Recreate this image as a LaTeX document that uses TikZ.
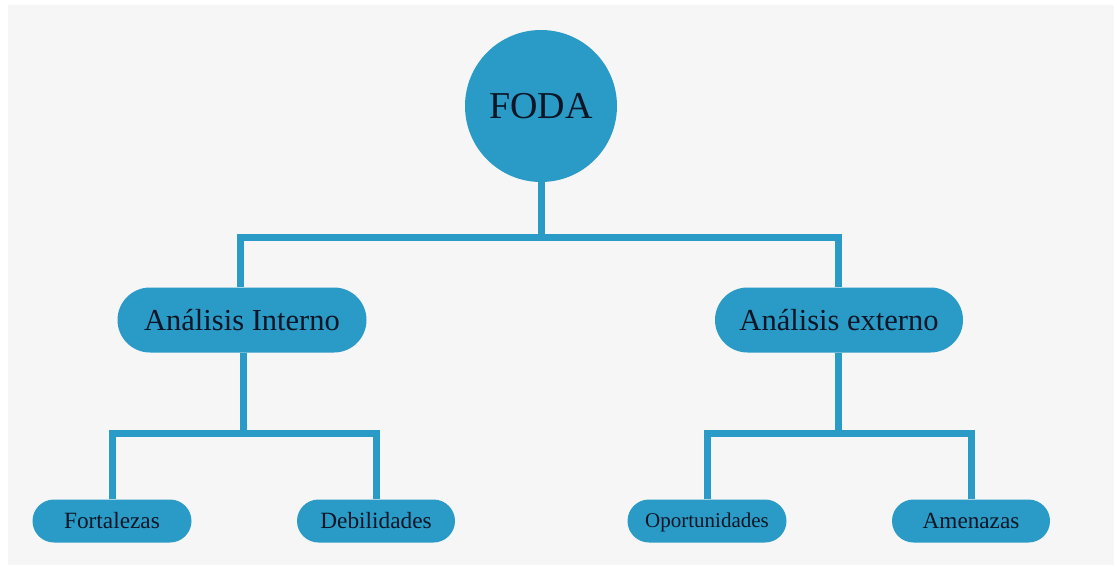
\documentclass[tikz,border=0pt]{standalone}
\usepackage{fontspec}
\usetikzlibrary{shapes.misc}
\setmainfont{Liberation Serif}
\definecolor{foda}{HTML}{2A9BC6}
\definecolor{bggray}{HTML}{F6F6F6}
\definecolor{txt}{HTML}{0C1626}
\begin{document}
\begin{tikzpicture}[x=1pt,y=-1pt,
  pill/.style={rounded rectangle,draw=none,fill=foda,text=txt,inner sep=0pt,anchor=center,
    font=\fontsize{#1}{#1}\selectfont,text height=0.66*#1 pt,text depth=0pt},
  conn/.style={draw=foda,line width=7pt}]
\fill[white] (0,0) rectangle (1117,567);
\useasboundingbox (0,0) rectangle (1117,567);
\fill[bggray] (8,5) rectangle (1114,565);
\coordinate (h0) at (541,237);
\coordinate (hl) at (240,237);
\coordinate (hr) at (838,237);
\coordinate (gl) at (243,433);
\coordinate (gl1) at (112,433);
\coordinate (gl2) at (376,433);
\coordinate (gr) at (838,433);
\coordinate (gr1) at (707,433);
\coordinate (gr2) at (971,433);
\node[circle,fill=foda,minimum size=152pt,inner sep=0pt,text=txt,font=\fontsize{38}{40}\selectfont,text height=25pt,text depth=0pt] (foda) at (541,106) {FODA};
\node[pill=30.5,minimum width=249pt,minimum height=65pt] (ai) at (242,320) {Análisis Interno};
\node[pill=30.5,minimum width=248pt,minimum height=65pt] (ae) at (839,320) {Análisis externo};
\node[pill=23.3,minimum width=159pt,minimum height=43pt] (fo) at (112,521) {Fortalezas};
\node[pill=23.3,minimum width=158pt,minimum height=43pt] (de) at (376,521) {Debilidades};
\node[pill=21,minimum width=159pt,minimum height=43pt] (op) at (707,521) {Oportunidades};
\node[pill=23.2,minimum width=158pt,minimum height=43pt] (am) at (971,521) {Amenazas};
\draw[conn] (foda.south) -- (h0);
\draw[conn,line join=miter] (ai.north -| hl) -- (hl) -- (hr) -- (ae.north -| hr);
\draw[conn] (ai.south -| gl) -- (gl);
\draw[conn,line join=miter] (fo.north -| gl1) -- (gl1) -- (gl2) -- (de.north -| gl2);
\draw[conn] (ae.south -| gr) -- (gr);
\draw[conn,line join=miter] (op.north -| gr1) -- (gr1) -- (gr2) -- (am.north -| gr2);
\end{tikzpicture}
\end{document}
